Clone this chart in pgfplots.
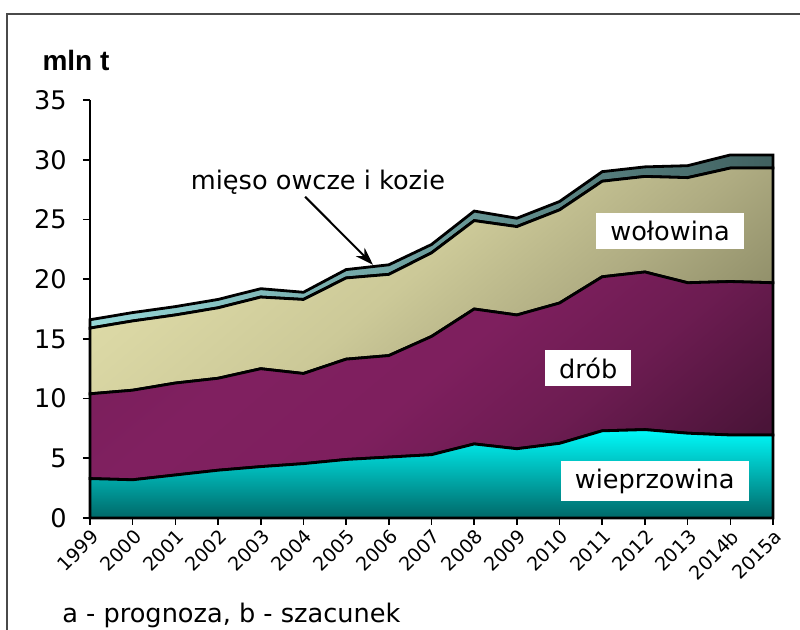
\documentclass[border=0pt]{standalone}
\usepackage{fontspec}
\setmainfont{DejaVu Sans}
\newfontfamily\titlefont{Liberation Sans}
\usepackage{pgfplots}
\usepackage{pgfplotstable}
\pgfplotsset{compat=1.18}
\usetikzlibrary{arrows.meta}

\definecolor{framegray}{HTML}{4A4A4A}
\definecolor{porkTop}{HTML}{00FAFA}
\definecolor{porkBot}{HTML}{006868}
\definecolor{sheepA}{HTML}{96D8D8}
\definecolor{sheepB}{HTML}{40605F}

\definecolor{p0}{HTML}{40102D}
\definecolor{p1}{HTML}{4A1438}
\definecolor{p2}{HTML}{6C1C51}
\definecolor{p3}{HTML}{7E1F5E}
\definecolor{p4}{HTML}{802060}
\definecolor{p5}{HTML}{761D58}
\pgfdeclareverticalshading{poulshade}{100bp}{color(0bp)=(p0); color(20bp)=(p1); color(36bp)=(p2); color(50bp)=(p3); color(65bp)=(p4); color(85bp)=(p5); color(100bp)=(p5)}

\definecolor{b0}{HTML}{7C7B57}
\definecolor{b1}{HTML}{878662}
\definecolor{b2}{HTML}{AFAC82}
\definecolor{b3}{HTML}{CCC998}
\definecolor{b4}{HTML}{DAD7A4}
\definecolor{b5}{HTML}{E6E3B0}
\pgfdeclareverticalshading{beefshade}{100bp}{color(0bp)=(b0); color(20bp)=(b1); color(37bp)=(b2); color(52bp)=(b3); color(68bp)=(b4); color(85bp)=(b5); color(100bp)=(b5)}

\pgfplotstableread{
x pork poultry beef sheep
0  3.3  7.1  5.5 0.7
1  3.2  7.5  5.8 0.7
2  3.6  7.7  5.7 0.7
3  4.0  7.7  5.9 0.7
4  4.3  8.2  6.0 0.7
5  4.55 7.55 6.2 0.6
6  4.9  8.4  6.8 0.7
7  5.1  8.5  6.8 0.8
8  5.3  9.9  7.0 0.7
9  6.2  11.3 7.4 0.8
10 5.8  11.2 7.4 0.7
11 6.25 11.75 7.8 0.7
12 7.3  12.9 8.0 0.8
13 7.4  13.2 8.0 0.8
14 7.1  12.6 8.8 1.0
15 6.95 12.85 9.5 1.1
16 6.95 12.75 9.6 1.1
}\data

\begin{document}
\begin{tikzpicture}
\useasboundingbox (0,0) rectangle (400pt,-315pt);
\draw[framegray, line width=0.9pt] (3.5pt,-330pt) -- (3.5pt,-7pt) -- (420pt,-7pt);
\node[font=\titlefont\bfseries\fontsize{14}{16}\selectfont, anchor=center] at (38pt,-30pt) {mln t};
\node[anchor=west, font=\fontsize{12.8}{15}\selectfont, inner sep=0pt] at (31pt,-307.5pt) {a - prognoza, b - szacunek};
\begin{axis}[
  at={(45pt,-259pt)}, anchor=south west,
  scale only axis, width=341.5pt, height=209pt,
  xmin=0, xmax=16, ymin=0, ymax=35,
  ytick={0,5,...,35},
  xtick={0,...,16},
  xticklabels={1999,2000,2001,2002,2003,2004,2005,2006,2007,2008,2009,2010,2011,2012,2013,2014b,2015a},
  axis lines=left,
  axis line style={-, line width=0.8pt, black},
  tick style={black, line width=0.8pt},
  tick align=outside,
  major tick length=3.5pt,
  /pgf/number format/assume math mode=true,
  yticklabel style={font=\fontsize{12.8}{15}\selectfont, inner sep=2pt, xshift=-6pt},
  xticklabel style={font=\fontsize{9.5}{11}\selectfont, rotate=45, anchor=north east, inner sep=1pt},
  stack plots=y,
  clip=false,
]
\addplot[draw=black, line width=1.4pt, top color=porkTop, bottom color=porkBot, mark=none] table[x=x, y=pork] {\data} \closedcycle;
\addplot[draw=black, line width=1.4pt, shading=poulshade, shading angle=40, shade, mark=none] table[x=x, y=poultry] {\data} \closedcycle;
\addplot[draw=black, line width=1.4pt, shading=beefshade, shading angle=40, shade, mark=none] table[x=x, y=beef] {\data} \closedcycle;
\addplot[draw=black, line width=1.4pt, left color=sheepA, right color=sheepB, mark=none] table[x=x, y=sheep] {\data} \closedcycle;

\coordinate (wol) at (axis cs:13.59,24.0);
\coordinate (drob) at (axis cs:11.67,12.56);
\coordinate (wiep) at (axis cs:13.23,3.1);
\coordinate (mieso) at (axis cs:5.34,28.1);
\coordinate (arA) at (axis cs:5.04,26.9);
\coordinate (arB) at (axis cs:6.63,21.2);
\end{axis}
\node[fill=white, inner xsep=7pt, inner ysep=4pt, font=\fontsize{12.8}{15}\selectfont] at (wol) {wołowina};
\node[fill=white, inner xsep=7pt, inner ysep=4pt, font=\fontsize{12.8}{15}\selectfont] at (drob) {drób};
\node[fill=white, inner xsep=7pt, inner ysep=4pt, font=\fontsize{12.8}{15}\selectfont] at (wiep) {wieprzowina};
\node[font=\fontsize{12.8}{15}\selectfont] at (mieso) {mięso owcze i kozie};
\draw[-{Stealth[length=9pt,width=6pt]}, line width=1pt] (arA) -- (arB);
\end{tikzpicture}
\end{document}
